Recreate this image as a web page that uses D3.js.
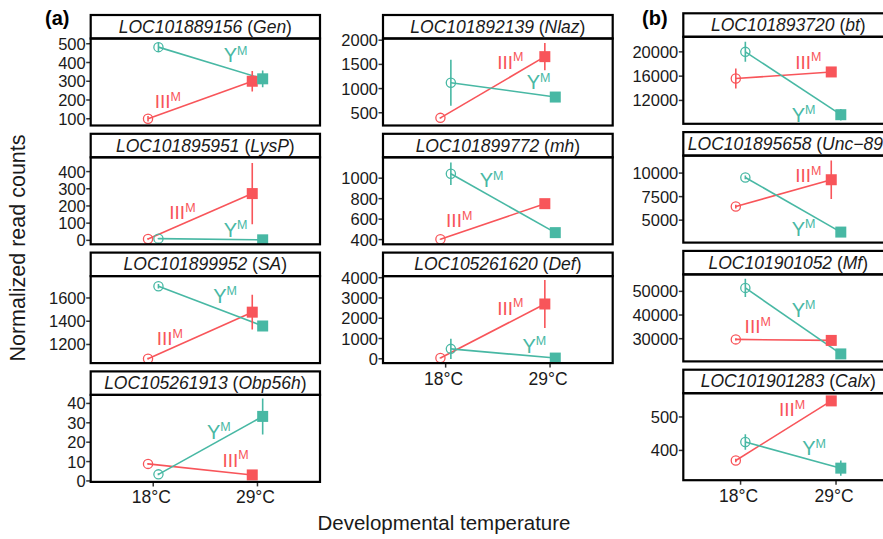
<!DOCTYPE html>
<html>
<head>
<meta charset="utf-8">
<script src="https://cdn.jsdelivr.net/npm/d3@7"></script>
<style>
  body { margin: 0; background: #fff; }
  svg { display: block; font-family: "Liberation Sans", Arial, Helvetica, sans-serif; }
</style>
</head>
<body>
<svg width="883" height="539"></svg>
<script>
'use strict';

// Panels in reading order: column (a) left, column (a) right, column (b).
const geneIds = ['LOC101889156', 'LOC101895951', 'LOC101899952', 'LOC105261913',
  'LOC101892139', 'LOC101899772', 'LOC105261620',
  'LOC101893720', 'LOC101895658', 'LOC101901052', 'LOC101901283'];
const geneNames = ['Gen', 'LysP', 'SA', 'Obp56h', 'Nlaz', 'mh', 'Def',
  'bt', 'Unc\u221289', 'Mf', 'Calx'];
const temperatures = ['18°C', '29°C'];

// Means and standard errors at 18°C and 29°C, per strain.
const meanIII = [[100, 300], [8, 272], [1078, 1478], [8.8, 3.1],
  [395, 1660], [403, 751], [40, 2703],
  [15600, 16690], [6445, 9293], [29700, 29270], [370, 548]];
const errIII = [[15, 55], [5, 178], [7, 150], [0.5, 0.5],
  [20, 283], [5, 10], [30, 1180],
  [1650, 300], [200, 2050], [500, 500], [5, 5]];
const meanY = [[482, 313], [10, 3], [1701, 1359], [3.4, 33.3],
  [1122, 825], [1043, 468], [490, 35],
  [20000, 9650], [9536, 3734], [51460, 23560], [425, 347]];
const errY = [[25, 45], [3, 2], [20, 25], [0.5, 9.3],
  [475, 30], [110, 10], [500, 30],
  [1650, 950], [200, 300], [3860, 500], [23, 23]];

const yDomains = [[64, 528], [-23, 483], [1040, 1788], [-0.5, 44.4],
  [237, 2035], [354, 1204], [-213, 4079],
  [8150, 22480], [2616, 11857], [20400, 57170], [311, 571]];
const yTicks = [[100, 200, 300, 400, 500], [0, 100, 200, 300, 400], [1200, 1400, 1600], [0, 10, 20, 30, 40],
  [500, 1000, 1500, 2000], [400, 600, 800, 1000], [0, 1000, 2000, 3000, 4000],
  [12000, 16000, 20000], [5000, 7500, 10000], [30000, 40000, 50000], [400, 500]];

// Strain label anchors: [x on the temperature axis (1 = 18°C, 2 = 29°C), y value].
const labelIII = [[1.14, 194], [1.28, 164], [1.16, 1252], [1.79, 11],
  [1.62, 1550], [1.13, 590], [1.62, 2516],
  [1.71, 18347], [1.71, 9783], [1.18, 35280], [1.54, 523]];
const labelY = [[1.79, 438], [1.79, 62], [1.69, 1620], [1.63, 25.3],
  [1.89, 1135], [1.44, 978], [1.85, 644],
  [1.66, 9653], [1.66, 4068], [1.66, 42275], [1.77, 407]];

const strains = [
  { name: 'III', color: '#F8555A', mean: meanIII, err: errIII, label: labelIII, dodge: -0.05 },
  { name: 'Y', color: '#48B8A4', mean: meanY, err: errY, label: labelY, dodge: 0.05 },
];

// Facet grid layout.
const columns = [
  { left: 90.7, width: 229.3, top: 15, panels: [0, 1, 2, 3] },
  { left: 383, width: 229.7, top: 15, panels: [4, 5, 6] },
  { left: 683.3, width: 210, top: 13.3, panels: [7, 8, 9, 10] },
];
const rowStep = 118.8;
const stripH = 23.5;
const panelH = 87;

const svg = d3.select('svg');

columns.forEach((col, ci) => {
  const x = d3.scaleLinear().domain([0.4, 2.6]).range([col.left, col.left + col.width]);

  col.panels.forEach((p, ri) => {
    const top = col.top + ri * rowStep;
    const y0 = top + stripH;
    const y = d3.scaleLinear().domain(yDomains[p]).range([y0 + panelH, y0]);
    const g = svg.append('g').attr('class', 'facet');
    const clipId = `clip${p}`;

    g.append('clipPath').attr('id', clipId)
      .append('rect')
      .attr('x', col.left).attr('y', y0)
      .attr('width', col.width).attr('height', panelH);

    // Strip
    g.append('rect')
      .attr('x', col.left).attr('y', top)
      .attr('width', col.width).attr('height', stripH)
      .attr('fill', '#fff').attr('stroke', '#000').attr('stroke-width', 2.2);

    const strip = g.append('text')
      .attr('x', col.left + col.width / 2)
      .attr('y', top + stripH / 2 + 6)
      .attr('text-anchor', 'middle')
      .attr('font-size', 17.5)
      .attr('fill', '#1a1a1a');
    strip.append('tspan').attr('font-style', 'italic').text(geneIds[p]);
    strip.append('tspan').text(' (');
    strip.append('tspan').attr('font-style', 'italic').text(geneNames[p]);
    strip.append('tspan').text(')');

    // Y axis
    const yAxis = g.append('g').attr('class', 'y-axis');
    yTicks[p].forEach(t => {
      yAxis.append('line')
        .attr('x1', col.left - 4.5).attr('x2', col.left)
        .attr('y1', y(t)).attr('y2', y(t))
        .attr('stroke', '#333').attr('stroke-width', 1.5);
      yAxis.append('text')
        .attr('x', col.left - 5)
        .attr('y', y(t) + 6)
        .attr('text-anchor', 'end')
        .attr('font-size', 16.5)
        .attr('fill', '#1a1a1a')
        .text(t);
    });

    // Bottom panel of each column gets the temperature axis.
    if (ri === col.panels.length - 1) {
      const xAxis = g.append('g').attr('class', 'x-axis');
      temperatures.forEach((t, i) => {
        xAxis.append('line')
          .attr('x1', x(i + 1)).attr('x2', x(i + 1))
          .attr('y1', y0 + panelH).attr('y2', y0 + panelH + 4.5)
          .attr('stroke', '#333').attr('stroke-width', 1.5);
        xAxis.append('text')
          .attr('x', x(i + 1) - 2)
          .attr('y', y0 + panelH + 21.5)
          .attr('text-anchor', 'middle')
          .attr('font-size', 17.5)
          .attr('fill', '#1a1a1a')
          .text(t);
      });
    }

    const data = g.append('g').attr('clip-path', `url(#${clipId})`);

    // Lines
    strains.forEach(s => {
      data.append('path')
        .attr('d', d3.line()
          .x((d, i) => x(i + 1 + s.dodge))
          .y(d => y(d))(s.mean[p]))
        .attr('fill', 'none')
        .attr('stroke', s.color)
        .attr('stroke-width', 1.6);
    });

    // Error bars
    strains.forEach(s => {
      s.mean[p].forEach((m, i) => {
        data.append('line')
          .attr('x1', x(i + 1 + s.dodge)).attr('x2', x(i + 1 + s.dodge))
          .attr('y1', y(m - s.err[p][i])).attr('y2', y(m + s.err[p][i]))
          .attr('stroke', s.color)
          .attr('stroke-width', 1.6);
      });
    });

    // Points: open circle at 18°C, filled square at 29°C
    strains.forEach(s => {
      const m = s.mean[p];
      data.append('circle')
        .attr('cx', x(1 + s.dodge)).attr('cy', y(m[0]))
        .attr('r', 4.6)
        .attr('fill', 'none')
        .attr('stroke', s.color)
        .attr('stroke-width', 1.3);
      data.append('rect')
        .attr('x', x(2 + s.dodge) - 5.5).attr('y', y(m[1]) - 5.5)
        .attr('width', 11).attr('height', 11)
        .attr('fill', s.color);
    });

    // Strain labels with superscript M
    strains.forEach(s => {
      const [lx, ly] = s.label[p];
      const t = data.append('text')
        .attr('x', x(lx))
        .attr('y', y(ly) + 7)
        .attr('text-anchor', 'middle')
        .attr('font-size', s.name === 'Y' ? 20 : 19)
        .attr('fill', s.color);
      t.append('tspan').text(s.name);
      t.append('tspan').attr('font-size', 12.5).attr('dy', -7.5).text('M');
    });

    // Panel border
    g.append('rect')
      .attr('x', col.left).attr('y', y0)
      .attr('width', col.width).attr('height', panelH)
      .attr('fill', 'none').attr('stroke', '#000').attr('stroke-width', 2.2);
  });
});

// Panel tags
svg.append('text')
  .attr('x', 45).attr('y', 25)
  .attr('font-size', 20).attr('font-weight', 'bold')
  .text('(a)');
svg.append('text')
  .attr('x', 642).attr('y', 25)
  .attr('font-size', 20).attr('font-weight', 'bold')
  .text('(b)');

// Axis titles
svg.append('text')
  .attr('transform', 'translate(25, 248) rotate(-90)')
  .attr('text-anchor', 'middle')
  .attr('font-size', 21.5)
  .attr('fill', '#1a1a1a')
  .text('Normalized read counts');
svg.append('text')
  .attr('x', 444).attr('y', 530)
  .attr('text-anchor', 'middle')
  .attr('font-size', 20.5)
  .attr('fill', '#1a1a1a')
  .text('Developmental temperature');
</script>
</body>
</html>
